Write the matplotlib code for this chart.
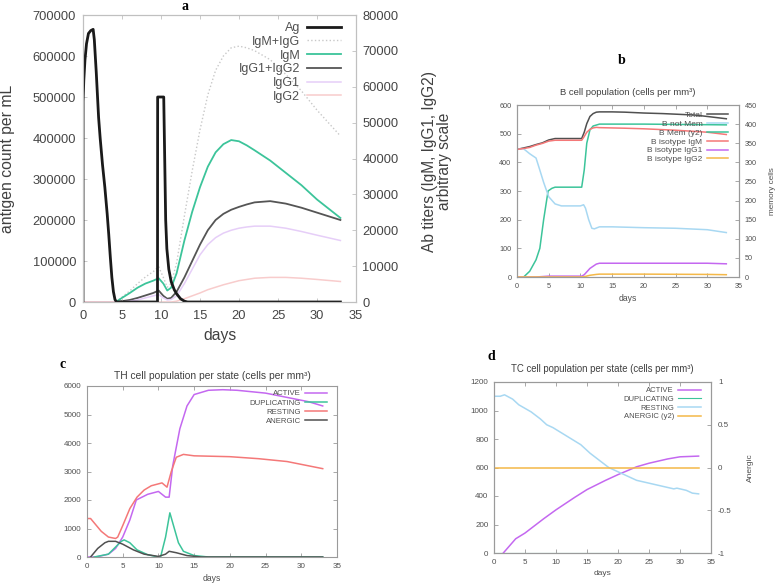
import matplotlib
matplotlib.use('Agg')
import matplotlib.pyplot as plt
import numpy as np

plt.rcParams['font.family'] = ['Liberation Sans', 'DejaVu Sans']

# ---------------- panel a: antigen and antibodies ----------------
ag_days = [0, 0.01, 0.1, 0.25, 0.45, 0.7, 1.0, 1.3, 1.45, 1.7, 2.0, 2.2, 2.5, 2.8, 3.1, 3.3, 3.5, 3.7, 3.9, 4.1, 4.3,
           9.55, 9.57, 10.35, 10.45, 10.6, 10.75, 11.0, 11.3, 11.7, 12.0, 12.5, 13.0, 13.4, 33]
ag_vals = [0, 490000, 540000, 590000, 630000, 655000, 662000, 665000, 640000, 560000, 450000, 400000, 335000, 280000,
           215000, 165000, 110000, 60000, 25000, 6000, 0,
           0, 500000, 500000, 380000, 200000, 130000, 80000, 50000, 30000, 20000, 8000, 2000, 0, 0]

ab_days = [0, 4.2, 5, 6, 7, 8, 9, 9.7, 10.3, 10.8, 11.3, 12, 13, 14, 15, 16, 17, 18, 19, 20, 21, 22, 24, 26, 28, 30, 33]
igm_igg = [0, 0, 1371, 3086, 5143, 6971, 8457, 9829, 6857, 4114, 5143, 10857, 24000, 36571, 48000, 57714, 64571,
           68571, 70857, 71314, 70857, 70057, 67543, 63429, 58857, 53486, 46286]
igm = [0, 0, 1143, 2514, 4000, 5143, 5943, 6629, 5143, 3200, 4000, 8000, 17143, 25143, 32000, 37714, 41714, 44000,
       45143, 44800, 43657, 42286, 39429, 36000, 32571, 28571, 23429]
igg1_igg2 = [0, 0, 229, 571, 1143, 1829, 2514, 3200, 1714, 914, 1143, 2857, 6857, 11429, 16000, 20000, 22857, 24571,
             25714, 26514, 27200, 27771, 28114, 27429, 26286, 24914, 22857]
igg1 = [0, 0, 0, 229, 571, 1143, 1714, 2057, 1143, 571, 686, 1714, 5143, 9143, 13143, 16000, 17943, 19200, 20000,
        20571, 20914, 21143, 21143, 20571, 19657, 18629, 17143]
igg2 = [0, 0, 0, 0, 0, 0, 0, 0, 0, 0, 0, 229, 914, 1714, 2514, 3429, 4114, 4800, 5371, 5943, 6286, 6629, 6857, 6857,
        6629, 6286, 5714]

# ---------------- panel b: B cells ----------------
b_days = [0, 1, 2, 3, 4, 5, 6, 8, 10.2, 10.6, 11.0, 11.5, 12.0, 12.5, 13, 15, 17, 20, 23, 25, 28, 30, 33]
b_total = [445, 450, 455, 462, 468, 478, 483, 483, 483, 505, 535, 560, 570, 575, 576, 576, 575, 572, 570, 568, 565, 560, 552]
b_igm = [445, 448, 452, 460, 466, 474, 477, 477, 477, 490, 505, 515, 520, 522, 521, 520, 519, 517, 514, 512, 508, 505, 497]
b_notmem_days = [0, 1, 2, 3, 3.5, 4.2, 5, 6, 7, 10, 10.5, 10.8, 11.3, 11.8, 12.2, 13, 15, 20, 25, 30, 33]
b_notmem = [445, 448, 430, 415, 380, 330, 280, 255, 248, 248, 252, 240, 200, 170, 168, 175, 175, 172, 170, 165, 155]
b_mem_days = [1.05, 2, 3, 3.6, 4.2, 4.9, 5.5, 6, 10.2, 10.6, 11, 11.5, 12, 13, 20, 33]
b_mem = [0, 15, 45, 75, 150, 225, 232, 235, 235, 280, 350, 385, 395, 400, 400, 398]
b_g_days = [0, 3, 5, 10.2, 10.6, 11.5, 12.5, 13, 20, 30, 33]
b_igg1 = [0, 0, 3, 3, 8, 30, 45, 48, 48, 48, 46]
b_igg2 = [0, 0, 0, 0, 1, 6, 9, 10, 10, 9, 8]

# ---------------- panel c: TH cells ----------------
th_act_days = [0, 1.3, 3, 4, 5, 6, 6.9, 8.5, 10, 11, 11.5, 12, 13, 14, 15, 17, 19, 21, 25, 28, 31, 33]
th_act = [0, 0, 100, 300, 700, 1300, 2000, 2200, 2300, 2100, 2100, 3200, 4500, 5300, 5700, 5850, 5870, 5850, 5750, 5600, 5450, 5300]
th_rest_days = [0, 0.5, 1, 2, 3, 4, 4.3, 5, 6, 7, 8, 9, 10.5, 11.2, 11.8, 12.5, 13.5, 15, 20, 24, 28, 31, 33]
th_rest = [1350, 1350, 1200, 900, 700, 650, 700, 1100, 1700, 2100, 2350, 2500, 2600, 2450, 3000, 3500, 3600, 3550, 3520, 3450, 3350, 3200, 3100]
th_dup_days = [1, 3, 4, 4.8, 5.2, 6, 7, 8.5, 10, 10.3, 11, 11.6, 12, 12.8, 13.5, 15, 17, 33]
th_dup = [0, 100, 350, 550, 600, 500, 250, 80, 0, 0, 700, 1550, 1200, 500, 200, 50, 0, 0]
th_an_days = [0.5, 1.5, 2.5, 3, 4, 5, 6.5, 8, 10, 11, 11.5, 12.5, 14, 16, 33]
th_an = [0, 300, 500, 550, 550, 450, 250, 100, 20, 100, 200, 150, 50, 0, 0]

# ---------------- panel d: TC cells ----------------
tc_rest_days = [0, 1, 1.7, 3, 4, 6, 7.5, 8.5, 9.5, 11, 12.5, 14, 15.5, 17, 18.5, 20, 21.5, 23, 25, 27, 29, 29.5, 31, 32, 33]
tc_rest = [1100, 1100, 1110, 1080, 1040, 990, 940, 900, 880, 840, 800, 760, 700, 650, 600, 570, 540, 510, 490, 470, 450, 455, 440, 420, 415]
tc_act_days = [1.5, 3.5, 5, 8, 10, 13, 15, 18, 20, 23, 25, 28, 30, 33]
tc_act = [0, 100, 140, 240, 303, 390, 445, 510, 550, 605, 630, 660, 675, 680]
tc_dup_days = [0, 33]
tc_dup = [0, 0]
tc_an_days = [0, 33]
tc_an = [0, 0]

grey = '#505050'
teal = '#3cc49a'
violet = '#c468f0'
red = '#f47878'
lblue = '#a8d8f2'
orange = '#f4b848'

W, H = 778, 585
fig = plt.figure(figsize=(7.78, 5.85), dpi=100)


def pax(l, t, r, b):
    return fig.add_axes([l / W, 1 - b / H, (r - l) / W, (b - t) / H])


def style(ax, fs, spine='#9a9a9a', pad=4):
    for s in ax.spines.values():
        s.set_color(spine)
        s.set_linewidth(0.8)
    ax.tick_params(direction='in', labelsize=fs, colors=spine, labelcolor='#505050',
                   length=3, width=0.6, top=True, right=True, pad=pad)


def leg(ax, h, l, x, y, fs, hl, lsp):
    ax.legend(h, l, loc='upper right', bbox_to_anchor=(x / W, 1 - y / H), bbox_transform=fig.transFigure,
              frameon=False, markerfirst=False, alignment='right', fontsize=fs, labelcolor='#505050',
              handlelength=hl, borderaxespad=0, borderpad=0, labelspacing=lsp, handletextpad=0.55)


def panel_letter(x, y, s):
    fig.text(x / W, 1 - y / H, s, fontsize=10, fontweight='bold', family='Liberation Serif',
             ha='center', va='center')


# ---- a ----
axa = pax(83, 15, 356, 302)
axa2 = axa.twinx()
axa2.plot(ab_days, igm_igg, color='#c8c8c8', lw=1.0, ls=':', label='IgM+IgG')
axa2.plot(ab_days, igm, color=teal, lw=1.3, label='IgM')
axa2.plot(ab_days, igg1_igg2, color='#555555', lw=1.3, label='IgG1+IgG2')
axa2.plot(ab_days, igg1, color='#e6cef8', lw=1.1, label='IgG1')
axa2.plot(ab_days, igg2, color='#f8cccc', lw=1.1, label='IgG2')
la, = axa.plot(ag_days, ag_vals, color='#1a1a1a', lw=2.0, label='Ag')
axa.set_zorder(axa2.get_zorder() + 1)
axa.patch.set_visible(False)
axa.set_xlim(0, 35)
axa.set_ylim(0, 700000)
axa2.set_ylim(0, 80000)
axa.set_yticks(np.arange(0, 700001, 100000))
axa2.set_yticks(np.arange(0, 80001, 10000))
axa.set_xticks(np.arange(0, 36, 5))
style(axa, 9.3, '#c0c0c0', pad=5)
style(axa2, 9.3, '#c0c0c0', pad=4.5)
axa.tick_params(axis='x', pad=6)
axa.tick_params(right=False, labelcolor='#454545')
axa2.tick_params(left=False, top=False, labelcolor='#454545')
axa.set_xlabel('days', fontsize=11.3, color='#404040', labelpad=4)
fig.text(8 / W, 1 - 159 / H, 'antigen count per mL', rotation=90, ha='center', va='center',
         fontsize=11.3, color='#404040')
fig.text(437 / W, 1 - 161 / H, 'Ab titers (IgM, IgG1, IgG2)\narbitrary scale', rotation=90,
         ha='center', va='center', fontsize=11.2, color='#404040', linespacing=0.95)
h2, l2 = axa2.get_legend_handles_labels()
leg(axa, [la] + h2, ['Ag'] + l2, 341, 22, 9, 2.7, 0.14)
panel_letter(185, 7, 'a')

# ---- b ----
axb = pax(517, 105, 739, 277)
axb2 = axb.twinx()
axb.plot(b_days, b_total, color=grey, lw=1.1, label='Total')
axb.plot(b_notmem_days, b_notmem, color=lblue, lw=1.1, label='B not Mem')
lm, = axb2.plot(b_mem_days, b_mem, color=teal, lw=1.1, label='B Mem (y2)')
axb.plot(b_days, b_igm, color=red, lw=1.1, label='B isotype IgM')
axb.plot(b_g_days, b_igg1, color=violet, lw=1.1, label='B isotype IgG1')
axb.plot(b_g_days, b_igg2, color=orange, lw=1.1, label='B isotype IgG2')
axb.set_zorder(axb2.get_zorder() + 1)
axb.patch.set_visible(False)
axb.set_xlim(0, 35)
axb.set_ylim(0, 600)
axb2.set_ylim(0, 450)
axb.set_xticks(np.arange(0, 36, 5))
axb2.set_yticks(np.arange(0, 451, 50))
style(axb, 5.2)
style(axb2, 5.2)
axb.tick_params(right=False)
axb2.tick_params(left=False, top=False)
axb.set_xlabel('days', fontsize=6.2, color='#505050', labelpad=3)
axb2.set_ylabel('memory cells', fontsize=5.9, color='#505050', labelpad=9)
axb.set_title('B cell population (cells per mm³)', fontsize=6.8, color='#404040', pad=7)
hb, lb = axb.get_legend_handles_labels()
hb.insert(2, lm)
lb.insert(2, 'B Mem (y2)')
leg(axb, hb, lb, 728, 111, 6, 2.5, 0.13)
panel_letter(622, 61, 'b')

# ---- c ----
axc = pax(87, 386, 337, 557)
axc.plot(th_act_days, th_act, color=violet, lw=1.1, label='ACTIVE')
axc.plot(th_dup_days, th_dup, color=teal, lw=1.1, label='DUPLICATING')
axc.plot(th_rest_days, th_rest, color=red, lw=1.1, label='RESTING')
axc.plot(th_an_days, th_an, color=grey, lw=1.1, label='ANERGIC')
axc.set_xlim(0, 35)
axc.set_ylim(0, 6000)
axc.set_xticks(np.arange(0, 36, 5))
style(axc, 5.8)
axc.set_xlabel('days', fontsize=6.2, color='#505050', labelpad=3)
axc.set_title('TH cell population per state (cells per mm³)', fontsize=7.4, color='#404040', pad=5)
hc, lc = axc.get_legend_handles_labels()
leg(axc, hc, lc, 327, 390, 5.6, 2.8, 0.23)
panel_letter(63, 365, 'c')

# ---- d ----
axd = pax(494, 382, 711, 553)
axd2 = axd.twinx()
axd.plot(tc_act_days, tc_act, color=violet, lw=1.1, label='ACTIVE')
axd.plot(tc_dup_days, tc_dup, color=teal, lw=0.8, label='DUPLICATING', zorder=1)
axd.plot(tc_rest_days, tc_rest, color=lblue, lw=1.1, label='RESTING')
ld, = axd2.plot(tc_an_days, tc_an, color=orange, lw=1.1, label='ANERGIC (y2)')
axd.set_xlim(0, 35)
axd.set_ylim(0, 1200)
axd2.set_ylim(-1, 1)
axd.set_xticks(np.arange(0, 36, 5))
axd2.set_yticks([-1, -0.5, 0, 0.5, 1])
axd2.set_yticklabels(['-1', '-0.5', '0', '0.5', '1'])
style(axd, 5.8)
style(axd2, 5.8, pad=5)
axd.tick_params(right=False)
axd2.tick_params(left=False, top=False)
axd.set_xlabel('days', fontsize=6, color='#505050', labelpad=3)
axd2.set_ylabel('Anergic', fontsize=6, color='#505050', labelpad=11)
axd.set_title('TC cell population per state (cells per mm³)', fontsize=6.9, color='#404040', pad=7)
hd, ldl = axd.get_legend_handles_labels()
leg(axd, hd + [ld], ldl + ['ANERGIC (y2)'], 701, 387, 5.5, 3.0, 0.17)
panel_letter(491, 357, 'd')

fig.savefig('out.png', dpi=100)
